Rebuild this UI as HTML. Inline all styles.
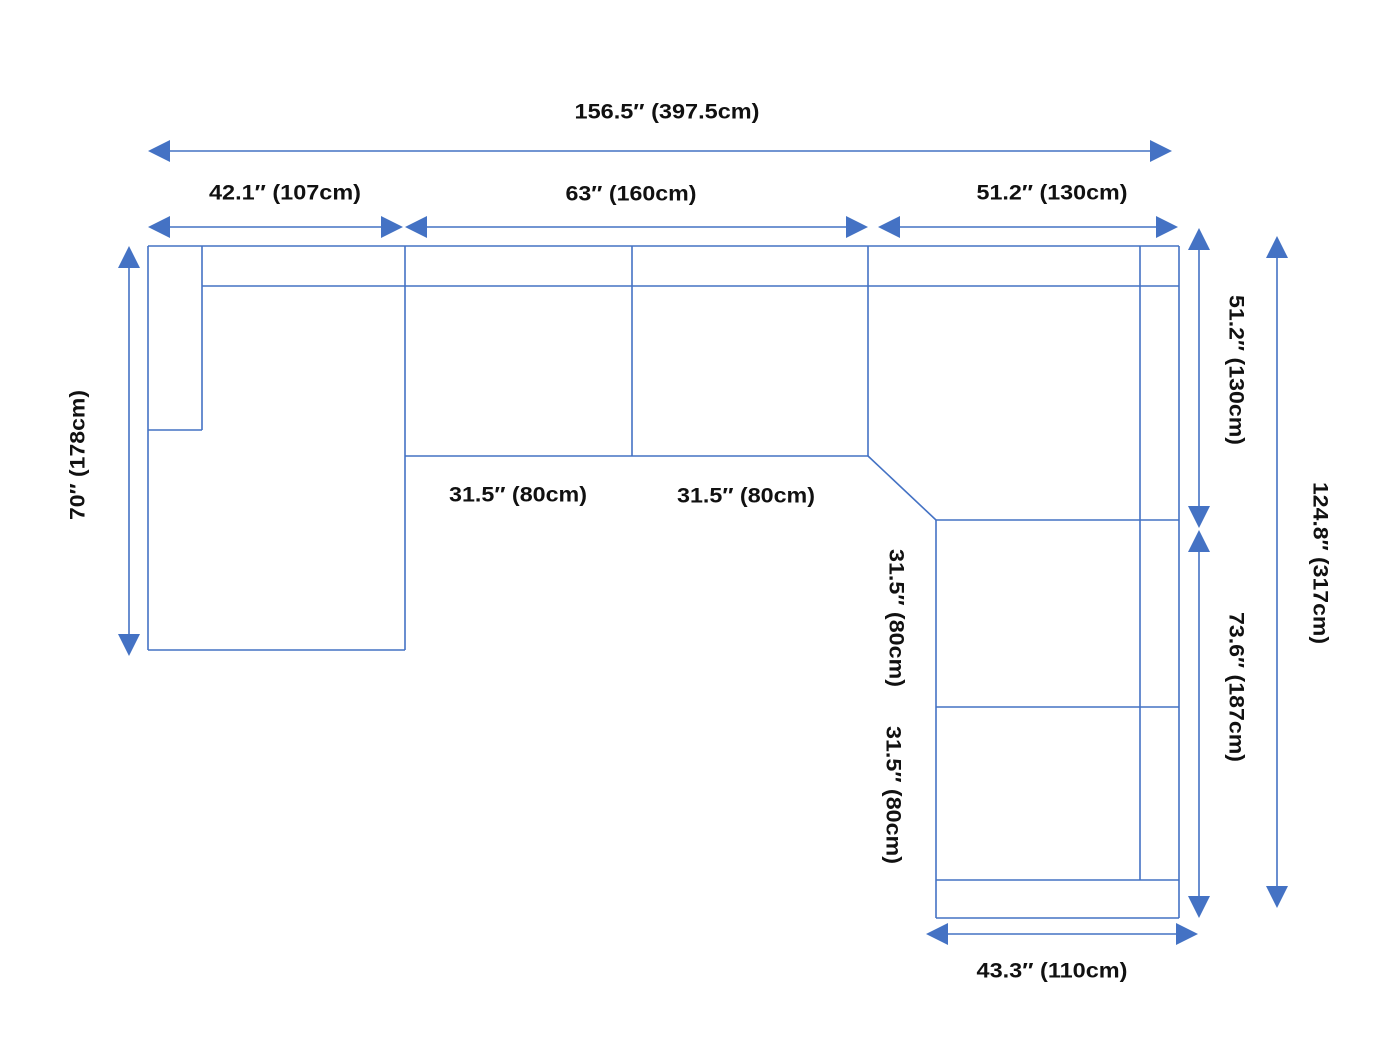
<!DOCTYPE html>
<html><head><meta charset="utf-8"><style>html,body{margin:0;padding:0;background:#fff}svg{display:block}</style></head><body>
<svg width="1400" height="1050" viewBox="0 0 1400 1050" xmlns="http://www.w3.org/2000/svg">
<g stroke="#4472C4" stroke-width="1.6" fill="none">
<line x1="148" y1="246" x2="1179" y2="246"/>
<line x1="202" y1="286" x2="1179" y2="286"/>
<line x1="148" y1="246" x2="148" y2="650"/>
<line x1="202" y1="246" x2="202" y2="430"/>
<line x1="148" y1="430" x2="202" y2="430"/>
<line x1="148" y1="650" x2="405" y2="650"/>
<line x1="405" y1="246" x2="405" y2="650"/>
<line x1="405" y1="456" x2="868" y2="456"/>
<line x1="632" y1="246" x2="632" y2="456"/>
<line x1="868" y1="246" x2="868" y2="456"/>
<line x1="868" y1="456" x2="936" y2="520"/>
<line x1="936" y1="520" x2="936" y2="918"/>
<line x1="936" y1="520" x2="1179" y2="520"/>
<line x1="936" y1="707" x2="1179" y2="707"/>
<line x1="936" y1="880" x2="1179" y2="880"/>
<line x1="936" y1="918" x2="1179" y2="918"/>
<line x1="1140" y1="246" x2="1140" y2="880"/>
<line x1="1179" y1="246" x2="1179" y2="918"/>
<!-- dimension lines -->
<line x1="160" y1="151" x2="1160" y2="151"/>
<line x1="160" y1="227" x2="392" y2="227"/>
<line x1="417" y1="227" x2="856" y2="227"/>
<line x1="890" y1="227" x2="1166" y2="227"/>
<line x1="938" y1="934" x2="1186" y2="934"/>
<line x1="129" y1="258" x2="129" y2="644"/>
<line x1="1199" y1="240" x2="1199" y2="516"/>
<line x1="1199" y1="542" x2="1199" y2="906"/>
<line x1="1277" y1="248" x2="1277" y2="896"/>
</g>
<g fill="#4472C4">
<polygon points="148,151 170,140 170,162"/><polygon points="1172,151 1150,140 1150,162"/>
<polygon points="148,227 170,216 170,238"/><polygon points="403,227 381,216 381,238"/>
<polygon points="405,227 427,216 427,238"/><polygon points="868,227 846,216 846,238"/>
<polygon points="878,227 900,216 900,238"/><polygon points="1178,227 1156,216 1156,238"/>
<polygon points="926,934 948,923 948,945"/><polygon points="1198,934 1176,923 1176,945"/>
<polygon points="129,246 118,268 140,268"/><polygon points="129,656 118,634 140,634"/>
<polygon points="1199,228 1188,250 1210,250"/><polygon points="1199,528 1188,506 1210,506"/>
<polygon points="1199,530 1188,552 1210,552"/><polygon points="1199,918 1188,896 1210,896"/>
<polygon points="1277,236 1266,258 1288,258"/><polygon points="1277,908 1266,886 1288,886"/>
</g>
<g font-family="Liberation Sans, sans-serif" font-weight="bold" font-size="21" fill="#111" text-anchor="middle" dominant-baseline="central" lengthAdjust="spacingAndGlyphs">
<text x="667" y="112" textLength="185" lengthAdjust="spacingAndGlyphs">156.5″ (397.5cm)</text>
<text x="285" y="193" textLength="152" lengthAdjust="spacingAndGlyphs">42.1″ (107cm)</text>
<text x="631" y="194" textLength="131" lengthAdjust="spacingAndGlyphs">63″ (160cm)</text>
<text x="1052" y="193" textLength="151" lengthAdjust="spacingAndGlyphs">51.2″ (130cm)</text>
<text x="518" y="495" textLength="138" lengthAdjust="spacingAndGlyphs">31.5″ (80cm)</text>
<text x="746" y="496" textLength="138" lengthAdjust="spacingAndGlyphs">31.5″ (80cm)</text>
<text x="1052" y="971" textLength="151" lengthAdjust="spacingAndGlyphs">43.3″ (110cm)</text>
<text transform="translate(78,455) rotate(-90)" textLength="130" lengthAdjust="spacingAndGlyphs">70″ (178cm)</text>
<text transform="translate(1236,370) rotate(90)" textLength="150" lengthAdjust="spacingAndGlyphs">51.2″ (130cm)</text>
<text transform="translate(1236,687) rotate(90)" textLength="150" lengthAdjust="spacingAndGlyphs">73.6″ (187cm)</text>
<text transform="translate(1320,563) rotate(90)" textLength="162" lengthAdjust="spacingAndGlyphs">124.8″ (317cm)</text>
<text transform="translate(896,618) rotate(90)" textLength="138" lengthAdjust="spacingAndGlyphs">31.5″ (80cm)</text>
<text transform="translate(893,795) rotate(90)" textLength="138" lengthAdjust="spacingAndGlyphs">31.5″ (80cm)</text>
</g>
</svg>
</body></html>
